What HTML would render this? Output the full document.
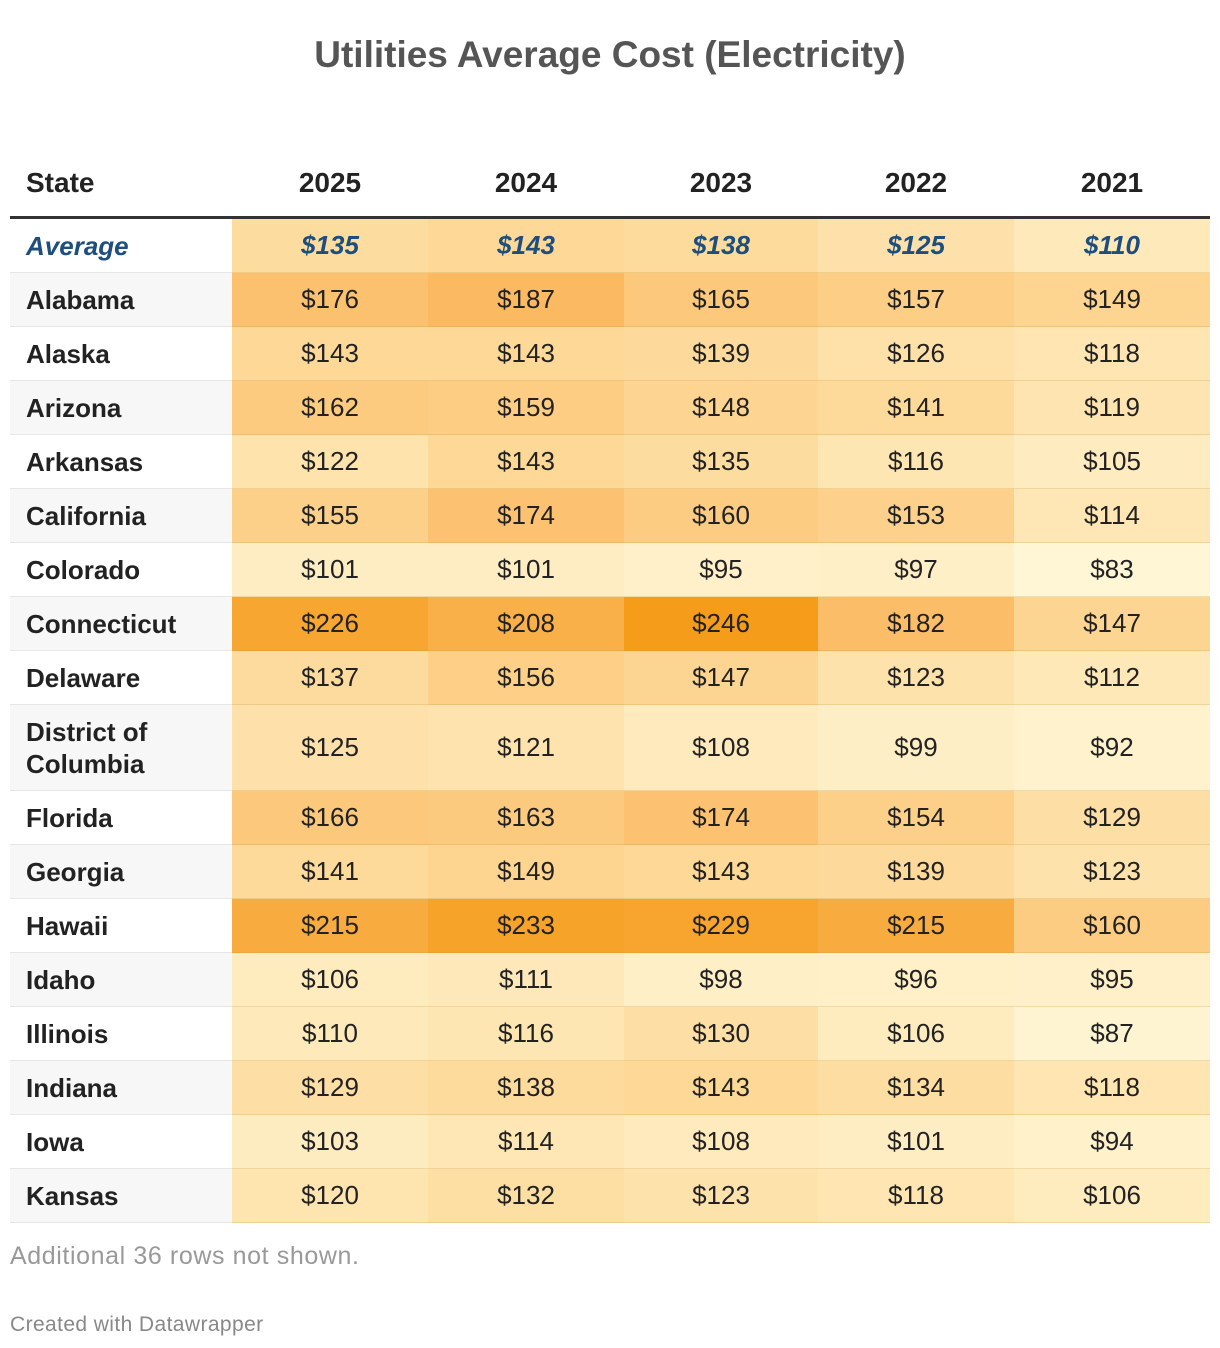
<!DOCTYPE html>
<html><head><meta charset="utf-8">
<style>
body{margin:0;width:1220px;height:1348px;background:#fff;font-family:"Liberation Sans",sans-serif;position:relative;overflow:hidden}
#title{position:absolute;top:34px;left:0;width:1220px;text-align:center;font-size:37px;font-weight:bold;color:#555}
table{position:absolute;left:10px;top:150px;width:1200px;border-collapse:collapse;table-layout:fixed}
th{font-size:28px;font-weight:bold;color:#222;height:66px;text-align:center;border-bottom:3px solid #333;padding:0}
th.st{text-align:left;padding-left:16px}
td{font-size:26px;color:#222;text-align:center;border-bottom:1px solid #e6e6e6;padding:0;height:53px}
td.st{text-align:left;padding-left:16px;font-weight:bold;line-height:32px}
tr.avg td{font-style:italic;font-weight:bold;color:#1d4e7e}
#note{position:absolute;left:10px;top:1242px;font-size:25px;letter-spacing:0.6px;color:#999}
#credit{position:absolute;left:10px;top:1313px;font-size:21px;letter-spacing:0.4px;color:#888}
</style></head><body>
<div id="title">Utilities Average Cost (Electricity)</div>
<table id="tbl">
<colgroup><col style="width:222px"><col style="width:196px"><col style="width:196px"><col style="width:194px"><col style="width:196px"><col style="width:196px"></colgroup>
<thead><tr id="hdr"></tr></thead>
<tbody id="body"></tbody>
</table>
<div id="note">Additional 36 rows not shown.</div>
<div id="credit">Created with Datawrapper</div>
<script>
const years=["2025","2024","2023","2022","2021"];
const states=["Average","Alabama","Alaska","Arizona","Arkansas","California","Colorado","Connecticut","Delaware","District of Columbia","Florida","Georgia","Hawaii","Idaho","Illinois","Indiana","Iowa","Kansas"];
const v2025=[135,176,143,162,122,155,101,226,137,125,166,141,215,106,110,129,103,120];
const v2024=[143,187,143,159,143,174,101,208,156,121,163,149,233,111,116,138,114,132];
const v2023=[138,165,139,148,135,160,95,246,147,108,174,143,229,98,130,143,108,123];
const v2022=[125,157,126,141,116,153,97,182,123,99,154,139,215,96,106,134,101,118];
const v2021=[110,149,118,119,105,114,83,147,112,92,129,123,160,95,87,118,94,106];
const series=[v2025,v2024,v2023,v2022,v2021];
const stops=[[83,[255,246,213]],[140,[253,218,155]],[180,[252,190,106]],[246,[245,156,26]]];
function color(v){
  for(let i=0;i<stops.length-1;i++){const[a,ca]=stops[i],[b,cb]=stops[i+1];
    if(v<=b||i==stops.length-2){let t=Math.max(0,Math.min(1,(v-a)/(b-a)));
      return 'rgb('+ca.map((c,k)=>Math.round(c+(cb[k]-c)*t)).join(',')+')';}}
}
const hdr=document.getElementById('hdr');
const th0=document.createElement('th');th0.className='st';th0.textContent='State';


hdr.appendChild(th0);
years.forEach(y=>{const th=document.createElement('th');th.textContent=y;


hdr.appendChild(th);});
const body=document.getElementById('body');
states.forEach((s,i)=>{
  const tr=document.createElement('tr');
  
  
  if(i==0)tr.className='avg';
  const td=document.createElement('td');td.className='st';
  td.innerHTML=s=="District of Columbia"?"District of<br>Columbia":s;
  td.style.background=(i%2==1)?'#f7f7f7':'#fff';
  if(s=="District of Columbia")td.style.height='85px';
  
  
  tr.appendChild(td);
  series.forEach((ser,j)=>{const c=document.createElement('td');
    c.textContent='$'+ser[i];c.style.background=color(ser[i]);
    c.style.borderBottomColor='rgba(200,150,60,0.25)';
    
    
    tr.appendChild(c);});
  body.appendChild(tr);
});
</script>
</body></html>
